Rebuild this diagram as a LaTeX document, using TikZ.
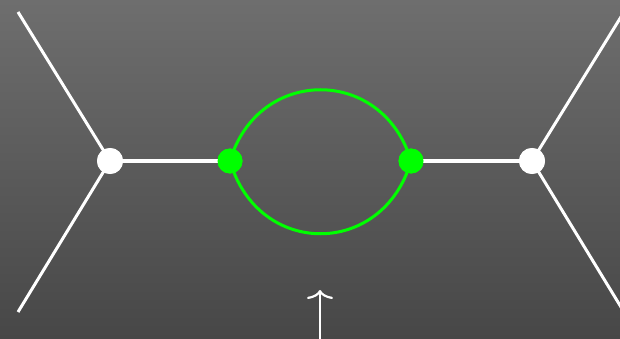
\documentclass[tikz,border=0pt]{standalone}
\usetikzlibrary{arrows.meta}
\definecolor{bgtop}{HTML}{6E6E6E}
\definecolor{bgbot}{HTML}{474747}
\definecolor{vgreen}{HTML}{00FF00}
\begin{document}
\begin{tikzpicture}[x=1pt,y=-1pt,
  wline/.style={draw=white,line width=3pt},
  gline/.style={draw=vgreen,line width=3pt},
  wdot/.style={circle,fill=white,inner sep=0pt,minimum size=26pt},
  gdot/.style={circle,fill=vgreen,inner sep=0pt,minimum size=25pt}]
\useasboundingbox (0,0) rectangle (620,339);
\shade[top color=bgtop,bottom color=bgbot] (0,0) rectangle (620,339);
\clip (0,0) rectangle (620,339);
\coordinate (lt) at (18,12);
\coordinate (lb) at (18,312);
\coordinate (rt) at (624,12);
\coordinate (rb) at (624,312);
\node[wdot] (L) at (110,161) {};
\node[wdot] (R) at (532,161) {};
\node[gdot] (GL) at (230,161) {};
\node[gdot] (GR) at (411,161) {};
\draw[wline] (lt) -- (L.center) -- (lb);
\draw[wline] (rt) -- (R.center) -- (rb);
\draw[wline] (L.center) -- (GL.center);
\draw[wline] (GR.center) -- (R.center);
\draw[gline] (GL.center) .. controls (258,66) and (383,66) .. (GR.center);
\draw[gline] (GL.center) .. controls (258,258) and (383,258) .. (GR.center);
\node[wdot] at (L) {};
\node[wdot] at (R) {};
\node[gdot] at (GL) {};
\node[gdot] at (GR) {};
\coordinate (ab) at (320,342);
\coordinate (at) at (320,290);
\draw[draw=white,line width=2.2pt,-{Computer Modern Rightarrow[length=9pt,width=26pt,line width=2.2pt]}] (ab) -- (at);
\end{tikzpicture}
\end{document}
